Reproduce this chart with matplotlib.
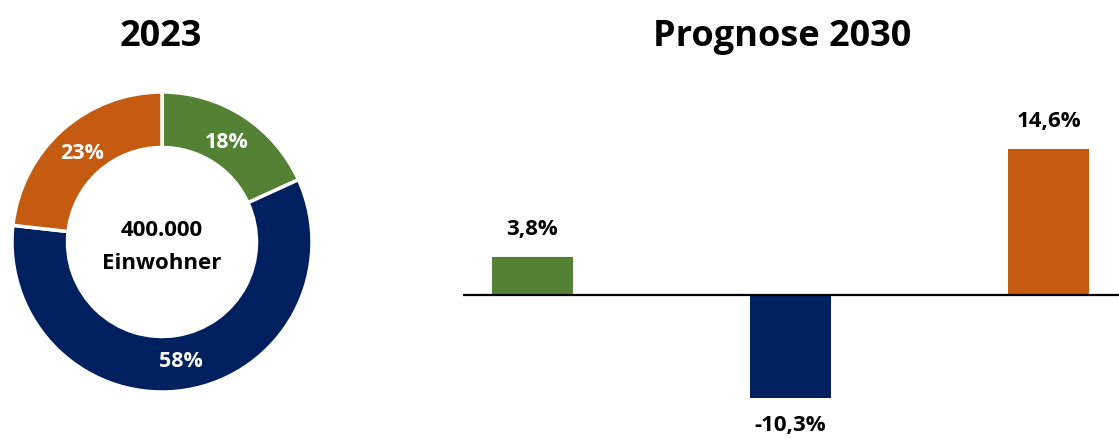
import matplotlib.pyplot as plt

plt.rcParams['font.family'] = ['Open Sans', 'DejaVu Sans']

# donut 2023
shares = [18, 58, 23]
share_labels = ['18%', '58%', '23%']
colors = ['#548235', '#002060', '#C55A11']
center_text = '400.000\nEinwohner'

# prognosis 2030
changes = [3.8, -10.3, 14.6]
change_labels = ['3,8%', '-10,3%', '14,6%']

W, H = 1119, 439
fig = plt.figure(figsize=(W / 100, H / 100), dpi=100)

# donut axes, centre (162, 243) px from top, radius 150 px
ax1 = fig.add_axes([12 / W, (H - 393) / H, 300 / W, 300 / H])
wedges, texts = ax1.pie(shares, labels=share_labels, colors=colors, startangle=90,
                        counterclock=False, radius=1, labeldistance=0.8,
                        wedgeprops=dict(width=0.37, edgecolor='white', linewidth=2.5),
                        textprops=dict(color='white', fontsize=15.5, fontweight='bold'))
for t in texts:
    t.set_ha('center')
    t.set_va('center')
ax1.text(0, -0.025, center_text, ha='center', va='center', fontsize=16,
         fontweight='bold', color='black', linespacing=1.75)
ax1.set_xlim(-1, 1)
ax1.set_ylim(-1, 1)
ax1.set_aspect('equal')
ax1.axis('off')

fig.text(161 / W, 1 - 37 / H, '2023', ha='center', va='center', fontsize=26, fontweight='bold')
fig.text(782 / W, 1 - 37 / H, 'Prognose 2030', ha='center', va='center', fontsize=26, fontweight='bold')

# bar axes: x 463..1119 px, y 100..420 px from top, 10 px per percent
ax2 = fig.add_axes([463 / W, (H - 420) / H, (W - 463) / W, 320 / H])
pos = list(range(len(changes)))
ax2.bar(pos, changes, width=0.314, color=colors, zorder=2)
ax2.axhline(0, color='black', linewidth=1.6, zorder=3)
for x, v, lab in zip(pos, changes, change_labels):
    if v >= 0:
        ax2.text(x, v + 1.8, lab, ha='center', va='bottom', fontsize=16, fontweight='bold')
    else:
        ax2.text(x, v - 1.6, lab, ha='center', va='top', fontsize=16, fontweight='bold')
ax2.set_xlim(-0.269, 2.273)
ax2.set_ylim(-12.4, 19.6)
ax2.axis('off')

fig.savefig('out.png', dpi=100)
